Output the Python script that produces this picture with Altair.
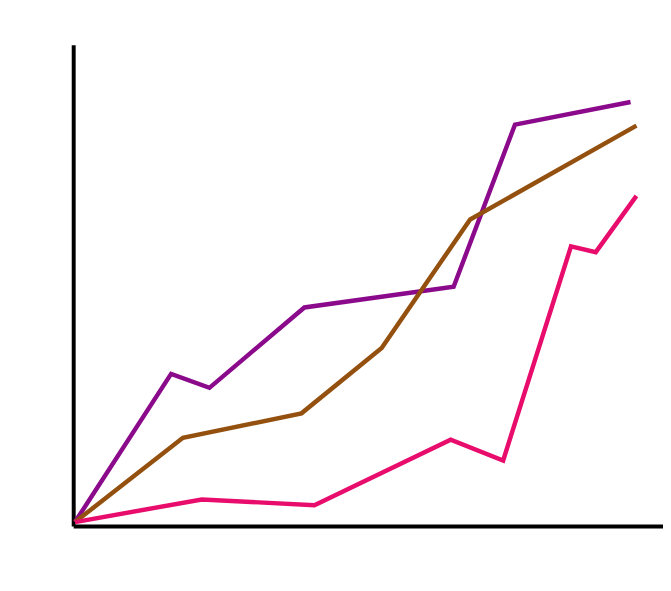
import altair as alt
import pandas as pd

purple_x = [0.3, 16.6, 23.1, 39.2, 64.5, 74.9, 94.5]
purple_y = [0.8, 31.6, 28.7, 45.4, 49.7, 83.4, 88.1]
brown_x = [0.3, 18.6, 38.7, 52.3, 67.3, 95.5]
brown_y = [0.8, 18.3, 23.4, 37.0, 63.7, 83.2]
pink_x = [0.3, 21.8, 40.9, 64.0, 72.9, 84.4, 88.6, 95.5]
pink_y = [0.8, 5.5, 4.3, 17.9, 13.6, 58.1, 56.9, 68.6]

series = ["purple", "brown", "pink"]
colors = ["#8b0a8b", "#94500f", "#e80c6c"]

rows = []
for name, xs, ys in [("purple", purple_x, purple_y), ("brown", brown_x, brown_y), ("pink", pink_x, pink_y)]:
    for i, (x, y) in enumerate(zip(xs, ys)):
        rows.append({"series": name, "order": i, "x": x, "y": y})
df = pd.DataFrame(rows)

chart = alt.Chart(df).mark_line(strokeWidth=4.5, strokeJoin="miter").encode(
    x=alt.X("x:Q", scale=alt.Scale(domain=[0, 100], nice=False, zero=False),
            axis=alt.Axis(title=None, labels=False, ticks=False, grid=False,
                          domainColor="black", domainWidth=4)),
    y=alt.Y("y:Q", scale=alt.Scale(domain=[0, 100], nice=False, zero=False),
            axis=alt.Axis(title=None, labels=False, ticks=False, grid=False,
                          domainColor="black", domainWidth=4)),
    color=alt.Color("series:N", scale=alt.Scale(domain=series, range=colors), legend=None),
    order="order:O",
).properties(
    width=597, height=487,
    autosize=alt.AutoSizeParams(type="none"),
    padding={"left": 66, "top": 34, "right": 0, "bottom": 10},
    background="white",
).configure_view(stroke=None)

chart.save("out.html", embed_options={"renderer": "svg", "actions": False})
